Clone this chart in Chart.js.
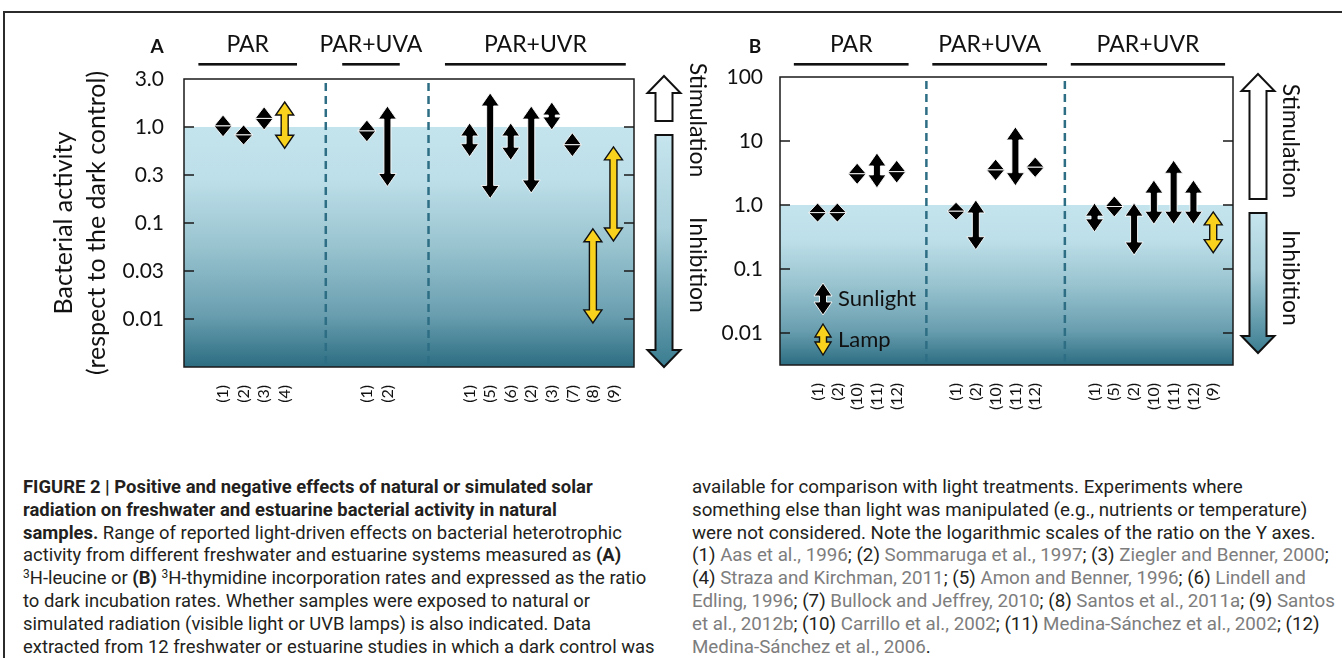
<!DOCTYPE html>
<html>
<head>
<meta charset="utf-8">
<script src="https://cdn.jsdelivr.net/npm/chart.js@4.4.1/dist/chart.umd.min.js"></script>
<style>
  body { margin: 0; width: 1342px; height: 658px; overflow: hidden; position: relative; background: #fff; }
  #frame { position: absolute; left: 3px; top: 11px; width: 1345px; height: 660px; border-left: 2px solid #2b2b2b; border-top: 2px solid #2b2b2b; }
  #panelA { position: absolute; left: 10px; top: 14px; }
  #panelB { position: absolute; left: 700px; top: 14px; }
  .cap { position: absolute; top: 476px; font-family: "Liberation Sans Narrow", "Roboto", sans-serif; font-size: 17px; line-height: 22.8px; color: #231f20; }
  .cap .ln { width: max-content; white-space: nowrap; }
  .cap sup { font-size: 0.65em; vertical-align: 0.5em; line-height: 0; }
  .cap .r { color: #7d7d7d; }
  #capL { left: 23px; }
  #capR { left: 692px; }
</style>
</head>
<body>
<div id="frame"></div>
<canvas id="panelA" width="700" height="400"></canvas>
<canvas id="panelB" width="642" height="400"></canvas>

<div class="cap" id="capL" data-w="632">
  <div class="ln"><b>FIGURE 2 | Positive and negative effects of natural or simulated solar</b></div>
  <div class="ln"><b>radiation on freshwater and estuarine bacterial activity in natural</b></div>
  <div class="ln"><b>samples.</b> Range of reported light-driven effects on bacterial heterotrophic</div>
  <div class="ln">activity from different freshwater and estuarine systems measured as <b>(A)</b></div>
  <div class="ln"><sup>3</sup>H-leucine or <b>(B)</b> <sup>3</sup>H-thymidine incorporation rates and expressed as the ratio</div>
  <div class="ln">to dark incubation rates. Whether samples were exposed to natural or</div>
  <div class="ln">simulated radiation (visible light or UVB lamps) is also indicated. Data</div>
  <div class="ln">extracted from 12 freshwater or estuarine studies in which a dark control was</div>
</div>
<div class="cap" id="capR" data-w="643">
  <div class="ln">available for comparison with light treatments. Experiments where</div>
  <div class="ln">something else than light was manipulated (e.g., nutrients or temperature)</div>
  <div class="ln">were not considered. Note the logarithmic scales of the ratio on the Y axes.</div>
  <div class="ln">(1) <span class="r">Aas et al., 1996</span>; (2) <span class="r">Sommaruga et al., 1997</span>; (3) <span class="r">Ziegler and Benner, 2000</span>;</div>
  <div class="ln">(4) <span class="r">Straza and Kirchman, 2011</span>; (5) <span class="r">Amon and Benner, 1996</span>; (6) <span class="r">Lindell and</span></div>
  <div class="ln"><span class="r">Edling, 1996</span>; (7) <span class="r">Bullock and Jeffrey, 2010</span>; (8) <span class="r">Santos et al., 2011a</span>; (9) <span class="r">Santos</span></div>
  <div class="ln"><span class="r">et al., 2012b</span>; (10) <span class="r">Carrillo et al., 2002</span>; (11) <span class="r">Medina-Sánchez et al., 2002</span>; (12)</div>
  <div class="ln"><span class="r">Medina-Sánchez et al., 2006</span>.</div>
</div>

<script>
// treatment groups, same for both panels
const groups = ['PAR', 'PAR+UVA', 'PAR+UVR'];

// panel A: 3H-leucine, ratio to dark control
const studiesA = ['(1)', '(2)', '(3)', '(4)', '(1)', '(2)', '(1)', '(5)', '(6)', '(2)', '(3)', '(7)', '(8)', '(9)'];
const groupOfA = [0, 0, 0, 0, 1, 1, 2, 2, 2, 2, 2, 2, 2, 2];
const lowA  = [0.79, 0.65, 0.93, 0.60, 0.70, 0.24, 0.49, 0.18, 0.45, 0.205, 0.93, 0.49, 0.0091, 0.065];
const highA = [1.33, 1.05, 1.62, 1.82, 1.18, 1.65, 1.10, 2.26, 1.10, 1.65, 1.82, 0.87, 0.087, 0.62];
const lampA = [0, 0, 0, 1, 0, 0, 0, 0, 0, 0, 0, 0, 1, 1];
const yTicksA  = [3.16, 1, 0.316, 0.1, 0.0316, 0.01];
const yLabelsA = ['3.0', '1.0', '0.3', '0.1', '0.03', '0.01'];

// panel B: 3H-thymidine, ratio to dark control
const studiesB = ['(1)', '(2)', '(10)', '(11)', '(12)', '(1)', '(2)', '(10)', '(11)', '(12)', '(1)', '(5)', '(2)', '(10)', '(11)', '(12)', '(9)'];
const groupOfB = [0, 0, 0, 0, 0, 1, 1, 1, 1, 1, 2, 2, 2, 2, 2, 2, 2];
const lowB  = [0.54, 0.54, 2.1, 1.85, 2.2, 0.58, 0.2, 2.4, 2.0, 2.7, 0.38, 0.65, 0.165, 0.5, 0.5, 0.5, 0.18];
const highB = [1.07, 1.07, 4.5, 6.5, 5.0, 1.1, 1.2, 5.2, 16.6, 5.6, 1.07, 1.38, 1.07, 2.45, 5.0, 2.45, 0.78];
const lampB = [0, 0, 0, 0, 0, 0, 0, 0, 0, 0, 0, 0, 0, 0, 0, 0, 1];
const yTicksB  = [100, 10, 1, 0.1, 0.01];
const yLabelsB = ['100', '10', '1.0', '0.1', '0.01'];

const LAMP = '#f8d21c';
const TEAL = '#2e6e85';
const FONT = 'Lato, "Open Sans", sans-serif';

function drawDoubleArrow(ctx, x, top, bottom, kind, hw) {
  const len = bottom - top;
  const hh = Math.min(13, len / 2);
  const sw = 3.5;
  ctx.save();
  ctx.lineJoin = 'miter';
  ctx.fillStyle = kind === 'lamp' ? LAMP : '#000';
  ctx.strokeStyle = kind === 'lamp' ? '#111' : 'rgba(255,255,255,0.9)';
  ctx.lineWidth = kind === 'lamp' ? 1.4 : 1;
  if (len - 2 * hh >= 1) {
    ctx.beginPath();
    ctx.moveTo(x, top);
    ctx.lineTo(x + hw, top + hh);
    ctx.lineTo(x + sw, top + hh);
    ctx.lineTo(x + sw, bottom - hh);
    ctx.lineTo(x + hw, bottom - hh);
    ctx.lineTo(x, bottom);
    ctx.lineTo(x - hw, bottom - hh);
    ctx.lineTo(x - sw, bottom - hh);
    ctx.lineTo(x - sw, top + hh);
    ctx.lineTo(x - hw, top + hh);
    ctx.closePath();
    ctx.fill();
    ctx.stroke();
  } else {
    const mid = (top + bottom) / 2;
    [top, bottom].forEach(tip => {
      ctx.beginPath();
      ctx.moveTo(x, tip);
      ctx.lineTo(x + hw, mid);
      ctx.lineTo(x - hw, mid);
      ctx.closePath();
      ctx.fill();
      ctx.stroke();
    });
  }
  ctx.restore();
}

function drawSideArrows(ctx, p, y1, area) {
  const x = p.side.x, hw = 16.5, sw = 8.5, hh = 17;
  const st = area.top - 3, sb = y1 - 6;
  const it = y1 + 8, ib = area.bottom - p.side.inhibGap;
  ctx.save();
  ctx.lineWidth = 2;
  ctx.strokeStyle = '#111';
  ctx.lineJoin = 'miter';
  // stimulation: open arrow pointing up
  ctx.beginPath();
  ctx.moveTo(x, st);
  ctx.lineTo(x + hw, st + hh);
  ctx.lineTo(x + sw, st + hh);
  ctx.lineTo(x + sw, sb);
  ctx.lineTo(x - sw, sb);
  ctx.lineTo(x - sw, st + hh);
  ctx.lineTo(x - hw, st + hh);
  ctx.closePath();
  ctx.fillStyle = '#fff';
  ctx.fill();
  ctx.stroke();
  // inhibition: shaded arrow pointing down
  const g = ctx.createLinearGradient(0, it, 0, ib);
  g.addColorStop(0, '#c6e5ee');
  g.addColorStop(0.4, '#a9d0db');
  g.addColorStop(1, '#3a7c90');
  ctx.beginPath();
  ctx.moveTo(x - sw, it);
  ctx.lineTo(x + sw, it);
  ctx.lineTo(x + sw, ib - hh);
  ctx.lineTo(x + hw, ib - hh);
  ctx.lineTo(x, ib);
  ctx.lineTo(x - hw, ib - hh);
  ctx.lineTo(x - sw, ib - hh);
  ctx.closePath();
  ctx.fillStyle = g;
  ctx.fill();
  ctx.stroke();
  // rotated words
  ctx.fillStyle = '#111';
  ctx.font = '23px ' + FONT;
  ctx.textAlign = 'center';
  ctx.textBaseline = 'middle';
  [['Stimulation', p.side.stimY], ['Inhibition', p.side.inhibY]].forEach(([t, cy]) => {
    ctx.save();
    ctx.translate(p.side.textX, cy);
    ctx.rotate(Math.PI / 2);
    ctx.fillText(t, 0, 0);
    ctx.restore();
  });
  ctx.restore();
}

function panelPlugin(p, slots) {
  const firstOf = gi => slots[p.group.indexOf(gi)];
  const lastOf = gi => slots[p.group.lastIndexOf(gi)];
  return {
    id: 'panel_' + p.letter,
    beforeDatasetsDraw(chart) {
      const {ctx, chartArea: a, scales: {x, y}} = chart;
      const y1 = y.getPixelForValue(1);
      ctx.save();
      ctx.fillStyle = '#fff';
      ctx.fillRect(a.left, a.top, a.width, a.height);
      const g = ctx.createLinearGradient(0, y1, 0, a.bottom);
      g.addColorStop(0, '#c4e4ed');
      g.addColorStop(0.22, '#bddfe9');
      g.addColorStop(0.5, '#98c3cf');
      g.addColorStop(0.78, '#6a9fb0');
      g.addColorStop(1, '#2c6d82');
      ctx.fillStyle = g;
      ctx.fillRect(a.left, y1, a.width, a.bottom - y1);
      // dashed separators between treatment groups
      ctx.strokeStyle = TEAL;
      ctx.lineWidth = 2.5;
      ctx.setLineDash([8, 5]);
      for (let gi = 0; gi < groups.length - 1; gi++) {
        const px = x.getPixelForValue((lastOf(gi) + firstOf(gi + 1)) / 2);
        ctx.beginPath();
        ctx.moveTo(px, a.top + 4);
        ctx.lineTo(px, a.bottom);
        ctx.stroke();
      }
      ctx.restore();
    },
    afterDatasetsDraw(chart) {
      const {ctx, chartArea: a, scales: {x, y}} = chart;
      chart.data.datasets.forEach((ds, di) => {
        chart.getDatasetMeta(di).data.forEach(el => {
          const pr = el.getProps(['x', 'y', 'base'], true);
          drawDoubleArrow(ctx, pr.x, Math.min(pr.y, pr.base), Math.max(pr.y, pr.base), ds.kind, 9);
        });
      });
      ctx.save();
      // frame and inward tick marks
      ctx.strokeStyle = '#1a1a1a';
      ctx.lineWidth = 1.5;
      ctx.strokeRect(a.left, a.top, a.width, a.height);
      y.ticks.forEach(t => {
        const py = y.getPixelForValue(t.value);
        if (py <= a.top + 2) return;
        ctx.beginPath();
        ctx.moveTo(a.left, py); ctx.lineTo(a.left + 10, py);
        ctx.moveTo(a.right, py); ctx.lineTo(a.right - 10, py);
        ctx.stroke();
      });
      // group headers with rules
      ctx.fillStyle = '#111';
      ctx.font = '23px ' + FONT;
      ctx.textAlign = 'center';
      ctx.textBaseline = 'middle';
      groups.forEach((name, gi) => {
        const x0 = x.getPixelForValue(firstOf(gi) - 1.2);
        const x1 = x.getPixelForValue(lastOf(gi) + 0.6);
        ctx.fillText(name, (x0 + x1) / 2, p.headY);
        ctx.fillRect(x0, p.headY + 18, x1 - x0, 2.6);
      });
      ctx.font = 'bold 19px ' + FONT;
      ctx.fillText(p.letter, p.letterX, p.headY + 2);
      drawSideArrows(ctx, p, y.getPixelForValue(1), a);
      // key for arrow types
      if (p.key) {
        drawDoubleArrow(ctx, p.key.x, p.key.y, p.key.y + 32, 'sun', 9);
        drawDoubleArrow(ctx, p.key.x, p.key.y + 41, p.key.y + 72, 'lamp', 8);
        ctx.fillStyle = '#111';
        ctx.font = '22px ' + FONT;
        ctx.textAlign = 'left';
        ctx.fillText('Sunlight', p.key.x + 15, p.key.y + 16);
        ctx.fillText('Lamp', p.key.x + 15, p.key.y + 57);
      }
      ctx.restore();
    }
  };
}

function buildPanel(id, p) {
  const slots = p.group.map((g, i) => i + g * p.gap);
  const sun = [], lamp = [];
  slots.forEach((s, i) => (p.lamp[i] ? lamp : sun).push({x: s, y: [p.low[i], p.high[i]]}));
  return new Chart(document.getElementById(id), {
    type: 'bar',
    data: {
      datasets: [
        {label: 'Sunlight', kind: 'sun', data: sun, backgroundColor: 'rgba(0,0,0,0)', borderWidth: 0, grouped: false},
        {label: 'Lamp', kind: 'lamp', data: lamp, backgroundColor: 'rgba(0,0,0,0)', borderWidth: 0, grouped: false}
      ]
    },
    options: {
      responsive: false,
      animation: false,
      layout: {padding: {top: p.padTop, right: p.padRight, left: 0, bottom: 0}},
      plugins: {legend: {display: false}, tooltip: {enabled: false}},
      scales: {
        x: {
          type: 'linear', min: -1.9, max: slots[slots.length - 1] + 1, offset: false,
          grid: {display: false}, border: {display: false},
          afterBuildTicks: s => { s.ticks = slots.map(v => ({value: v})); },
          afterFit: s => { s.height = p.xAxisH; },
          ticks: {
            autoSkip: false, minRotation: 90, maxRotation: 90, padding: 10, color: '#111',
            font: {family: FONT, size: 16},
            callback: (v, i) => p.studies[i]
          }
        },
        y: {
          type: 'logarithmic', min: p.yMin, max: p.yMax,
          grid: {display: false}, border: {display: false},
          afterBuildTicks: s => { s.ticks = p.yTicks.map(v => ({value: v})); },
          afterFit: s => { s.width = p.yAxisW; },
          ticks: {
            padding: p.yPad, color: '#111', font: {family: FONT, size: 21},
            callback: (v, i) => p.yLabels[i]
          },
          title: p.yTitle ? {
            display: true, text: p.yTitle, color: '#111',
            font: {family: FONT, size: 25, lineHeight: 1.32}, padding: {top: 37}
          } : {display: false}
        }
      }
    },
    plugins: [panelPlugin(p, slots)]
  });
}

buildPanel('panelA', {
  letter: 'A', letterX: 147, headY: 31,
  studies: studiesA, group: groupOfA, low: lowA, high: highA, lamp: lampA, gap: 3,
  yTicks: yTicksA, yLabels: yLabelsA, yMin: 0.00316, yMax: 3.16,
  yTitle: ['Bacterial activity', '(respect to the dark control)'],
  padTop: 65, padRight: 76, yAxisW: 174, xAxisH: 47, yPad: 12,
  side: {x: 654, inhibGap: 0, textX: 687, stimY: 106, inhibY: 251}
});

buildPanel('panelB', {
  letter: 'B', letterX: 55, headY: 31,
  studies: studiesB, group: groupOfB, low: lowB, high: highB, lamp: lampB, gap: 2,
  yTicks: yTicksB, yLabels: yLabelsB, yMin: 0.00316, yMax: 100,
  yTitle: null,
  padTop: 63, padRight: 109, yAxisW: 80, xAxisH: 49, yPad: 9,
  side: {x: 558, inhibGap: 12, textX: 590, stimY: 127, inhibY: 264},
  key: {x: 123, y: 269}
});

// fit each caption column to the printed column width
document.querySelectorAll('.cap').forEach(col => {
  const target = +col.dataset.w;
  const widest = Math.max(...[...col.querySelectorAll('.ln')].map(l => l.offsetWidth));
  col.style.fontSize = (17 * target / widest).toFixed(2) + 'px';
});
</script>
</body>
</html>
